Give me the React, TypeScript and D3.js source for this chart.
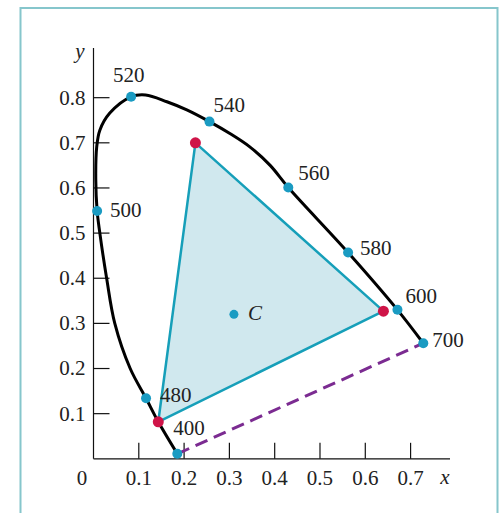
import React from "react";
import * as d3 from "d3";

// Spectral locus (chromaticity x, y), traced from the violet end up and around to red
const locusX = [0.185, 0.143, 0.116, 0.081, 0.047, 0.029, 0.014, 0.008, 0.005, 0.007, 0.014, 0.036, 0.083, 0.115, 0.162, 0.206, 0.256, 0.302, 0.345, 0.39, 0.43, 0.562, 0.671, 0.728];
const locusY = [0.011, 0.082, 0.134, 0.2, 0.3, 0.4, 0.5, 0.549, 0.62, 0.69, 0.728, 0.766, 0.802, 0.806, 0.791, 0.773, 0.747, 0.72, 0.691, 0.65, 0.601, 0.457, 0.33, 0.256];

// Labelled wavelengths (nm) on the locus
const waveLabels = ["400", "480", "500", "520", "540", "560", "580", "600", "700"];
const waveX = [0.185, 0.116, 0.008, 0.083, 0.256, 0.43, 0.562, 0.671, 0.728];
const waveY = [0.011, 0.134, 0.549, 0.802, 0.747, 0.601, 0.457, 0.33, 0.256];

// Primaries: blue, green, red
const primX = [0.143, 0.225, 0.64];
const primY = [0.082, 0.7, 0.327];

// Illuminant C
const whiteX = 0.31;
const whiteY = 0.32;

const xTicks = [0.1, 0.2, 0.3, 0.4, 0.5, 0.6, 0.7];
const yTicks = [0.1, 0.2, 0.3, 0.4, 0.5, 0.6, 0.7, 0.8];

// Label placement relative to each wavelength marker (left edge, baseline), px
const labelDX = [-4, 14, 13, -18, 4, 10, 12, 8, 9];
const labelDY = [-19, 4, 6, -15, -10, -8, 2, -7, 4];

const W = 501;
const H = 513;

export default function App() {
  const x = d3.scaleLinear().domain([0, 0.787]).range([93.5, 450]);
  const y = d3.scaleLinear().domain([0, 0.91]).range([458.8, 458.8 - 0.91 * 451.4]);

  const locusPts: [number, number][] = locusX.map((v, i) => [x(v), y(locusY[i])]);
  const locusPath = d3.line().curve(d3.curveCatmullRom.alpha(0.5))(locusPts) || "";

  const triPath =
    d3.line()(primX.map((v, i) => [x(v), y(primY[i])] as [number, number])) + "Z";

  const x0 = x(0);
  const y0 = y(0);
  const serif = "'Liberation Serif', 'Times New Roman', serif";
  const fs = 21;

  return (
    <svg
      width={W}
      height={H}
      style={{ position: "absolute", left: 0, top: 0, background: "#fff" }}
      fontFamily={serif}
    >
      {/* frame */}
      <path d={`M20.5,${H + 5}V8H497.5V${H + 5}`} fill="none" stroke="#86c6cc" strokeWidth={2} />

      {/* gamut triangle */}
      <path d={triPath} fill="#d0e8ee" stroke="none" />

      {/* axes */}
      <line x1={x0} x2={x0} y1={y(0.91)} y2={y0} stroke="#111" strokeWidth={1.2} />
      <line x1={x0} x2={x(0.787)} y1={y0} y2={y0} stroke="#111" strokeWidth={1.2} />
      {yTicks.map((t) => (
        <g key={"yt" + t}>
          <line x1={x0} x2={x0 + 16} y1={y(t)} y2={y(t)} stroke="#111" strokeWidth={1.2} />
          <text x={x0 - 8} y={y(t)} dy="0.33em" textAnchor="end" fontSize={fs} fill="#222">
            {t.toFixed(1)}
          </text>
        </g>
      ))}
      {xTicks.map((t) => (
        <g key={"xt" + t}>
          <line x1={x(t)} x2={x(t)} y1={y0} y2={y0 - 16} stroke="#111" strokeWidth={1.2} />
          <text x={x(t)} y={485} textAnchor="middle" fontSize={fs} fill="#222">
            {t.toFixed(1)}
          </text>
        </g>
      ))}
      <text x={82} y={485} textAnchor="middle" fontSize={fs} fill="#222">0</text>
      <text x={445} y={484} textAnchor="middle" fontSize={fs} fontStyle="italic" fill="#222">x</text>
      <text x={80} y={58} textAnchor="middle" fontSize={fs} fontStyle="italic" fill="#222">y</text>

      {/* line of purples */}
      <line
        x1={x(waveX[0])}
        y1={y(waveY[0])}
        x2={x(waveX[8])}
        y2={y(waveY[8])}
        stroke="#7b2b91"
        strokeWidth={3}
        strokeDasharray="13,7"
      />

      {/* spectral locus */}
      <path d={locusPath} fill="none" stroke="#000" strokeWidth={3} strokeLinecap="round" />

      {/* triangle edges */}
      <path d={triPath} fill="none" stroke="#169fb9" strokeWidth={2.5} strokeLinejoin="round" />

      {/* wavelength markers */}
      {waveLabels.map((w, i) => (
        <g key={"w" + w}>
          <circle cx={x(waveX[i])} cy={y(waveY[i])} r={5} fill="#1a9bc2" />
          <text
            x={x(waveX[i]) + labelDX[i]}
            y={y(waveY[i]) + labelDY[i]}
            fontSize={fs}
            fill="#222"
          >
            {w}
          </text>
        </g>
      ))}

      {/* primaries */}
      {primX.map((v, i) => (
        <circle key={"p" + i} cx={x(v)} cy={y(primY[i])} r={5.5} fill="#cf1448" />
      ))}

      {/* illuminant C */}
      <circle cx={x(whiteX)} cy={y(whiteY)} r={4.5} fill="#1a9bc2" />
      <text x={x(whiteX) + 14} y={y(whiteY) + 6} fontSize={fs} fontStyle="italic" fill="#222">
        C
      </text>
    </svg>
  );
}
